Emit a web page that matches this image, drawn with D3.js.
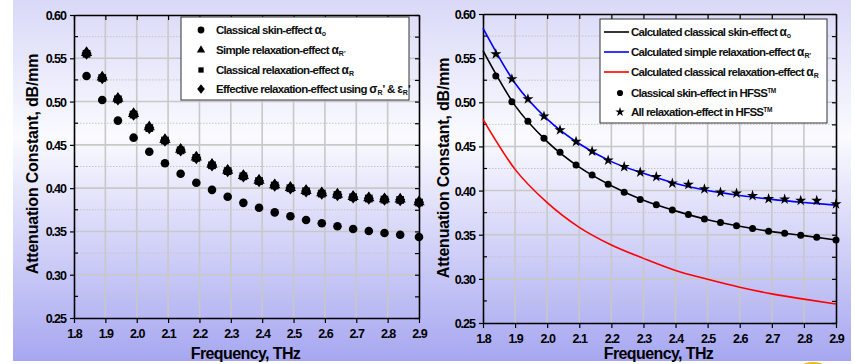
<!DOCTYPE html>
<html>
<head>
<meta charset="utf-8">
<script src="https://cdn.jsdelivr.net/npm/d3@7"></script>
<style>
  html, body { margin: 0; padding: 0; background: #fff; }
  svg { display: block; font-family: "Liberation Sans", Arial, sans-serif; }
</style>
</head>
<body>
<svg id="chart" width="855" height="364"></svg>
<script>
// measured frequencies (THz)
const freq = [1.84, 1.89, 1.94, 1.99, 2.04, 2.09, 2.14, 2.19, 2.24, 2.29, 2.34,
              2.39, 2.44, 2.49, 2.54, 2.59, 2.64, 2.69, 2.74, 2.79, 2.84, 2.9];

// left panel - point sets
const skinEffect = [0.5295, 0.5018, 0.478, 0.4583, 0.442, 0.4287, 0.4167, 0.4063, 0.398, 0.390, 0.383,
                    0.3774, 0.372, 0.3675, 0.3632, 0.3594, 0.356, 0.3528, 0.3505, 0.3482, 0.3462, 0.3436];
const simpleRelax = [0.5565, 0.5282, 0.5036, 0.4858, 0.4705, 0.4558, 0.4446, 0.4357, 0.4272, 0.4205, 0.4144,
                     0.4089, 0.4037, 0.4006, 0.3971, 0.3944, 0.3928, 0.3902, 0.3887, 0.3875, 0.3871, 0.3841];
const classicalRelax = [0.5552, 0.5272, 0.5026, 0.4850, 0.4694, 0.4550, 0.4437, 0.4349, 0.4264, 0.4197, 0.4137,
                        0.4082, 0.4030, 0.3999, 0.3964, 0.3937, 0.3921, 0.3895, 0.3880, 0.3868, 0.3864, 0.3834];
const effectiveRelax = [0.5557, 0.5276, 0.503, 0.4853, 0.4698, 0.4553, 0.444, 0.4352, 0.4267, 0.420, 0.414,
                        0.4085, 0.4033, 0.4002, 0.3967, 0.394, 0.3924, 0.3898, 0.3883, 0.3871, 0.3867, 0.3837];

// right panel - calculated curves
const curveFreq = [1.8, 1.9, 2.0, 2.1, 2.2, 2.3, 2.4, 2.5, 2.6, 2.7, 2.8, 2.9];
const calcSkin = [0.5584, 0.4962, 0.4555, 0.4265, 0.4055, 0.389, 0.377, 0.367, 0.3595, 0.3535, 0.349, 0.344];
const calcSimple = [0.5840, 0.5216, 0.481, 0.453, 0.4328, 0.4195, 0.408, 0.400, 0.3945, 0.390, 0.3865, 0.3835];
const calcClassical = [0.4806, 0.424, 0.3863, 0.3583, 0.3383, 0.3232, 0.3095, 0.2995, 0.2905, 0.283, 0.277, 0.2716];

// right panel - HFSS points
const hfssSkin = [0.5298, 0.5007, 0.4785, 0.4592, 0.4434, 0.429, 0.4177, 0.4071, 0.398, 0.390, 0.384,
                  0.3779, 0.373, 0.3678, 0.3637, 0.3602, 0.3569, 0.3539, 0.3516, 0.3494, 0.3471, 0.344];
const hfssRelax = [0.5547, 0.5264, 0.5037, 0.4841, 0.4686, 0.4554, 0.4445, 0.4343, 0.4268, 0.4207, 0.4157,
                   0.4082, 0.4067, 0.4018, 0.398, 0.397, 0.3942, 0.3908, 0.3901, 0.3886, 0.3886, 0.3848];

const xTicks = [1.8, 1.9, 2.0, 2.1, 2.2, 2.3, 2.4, 2.5, 2.6, 2.7, 2.8, 2.9];
const yTicks = [0.25, 0.30, 0.35, 0.40, 0.45, 0.50, 0.55, 0.60];
const yMinor = [0.275, 0.325, 0.375, 0.425, 0.475, 0.525, 0.575];

const svg = d3.select("#chart");

// slide background
const defs = svg.append("defs");
const grad = defs.append("linearGradient").attr("id", "bg").attr("x1", 0).attr("y1", 0).attr("x2", 0).attr("y2", 1);
grad.append("stop").attr("offset", "0%").attr("stop-color", "#d9d9f8");
grad.append("stop").attr("offset", "38%").attr("stop-color", "#fafaff");
grad.append("stop").attr("offset", "100%").attr("stop-color", "#a7a7f1");
svg.append("rect").attr("x", 13).attr("y", 0).attr("width", 838).attr("height", 361).attr("fill", "url(#bg)");
// bit of the logo peeking in bottom right
svg.append("ellipse").attr("cx", 813).attr("cy", 376).attr("rx", 19).attr("ry", 14).attr("fill", "#f2b51e");

// diamond marker
const diamond = (w, h) => `M0,${-h}L${w},0L0,${h}L${-w},0Z`;

function panel(o) {
  const x = d3.scaleLinear().domain([1.8, 2.9]).range([o.x0, o.x1]);
  const y = d3.scaleLinear().domain([0.25, 0.60]).range([o.y1, o.y0]);
  const g = svg.append("g");

  // grid
  g.append("g").selectAll("line").data(yMinor).join("line")
    .attr("x1", o.x0).attr("x2", o.x1).attr("y1", d => y(d)).attr("y2", d => y(d))
    .attr("stroke", "#c4c4c4").attr("stroke-width", 1).attr("stroke-dasharray", "1.5,1.5");
  g.append("g").selectAll("line").data(yTicks.slice(1, -1)).join("line")
    .attr("x1", o.x0).attr("x2", o.x1).attr("y1", d => y(d)).attr("y2", d => y(d))
    .attr("stroke", "#c8c8c8").attr("stroke-width", 1.6);
  g.append("g").selectAll("line").data(xTicks.slice(1, -1)).join("line")
    .attr("y1", o.y0).attr("y2", o.y1).attr("x1", d => x(d)).attr("x2", d => x(d))
    .attr("stroke", "#c8c8c8").attr("stroke-width", 1.6);

  // axes
  const fmt1 = d3.format(".1f"), fmt2 = d3.format(".2f");
  const bottom = g.append("g").attr("transform", `translate(0,${o.y1})`)
    .call(d3.axisBottom(x).tickValues(xTicks).tickFormat(fmt1).tickSize(5).tickSizeOuter(0));
  const left = g.append("g").attr("transform", `translate(${o.x0},0)`)
    .call(d3.axisLeft(y).tickValues(yTicks).tickFormat(fmt2).tickSize(4).tickSizeOuter(0));
  const top = g.append("g").attr("transform", `translate(0,${o.y0})`)
    .call(d3.axisTop(x).tickValues(xTicks).tickFormat("").tickSize(-5).tickSizeOuter(0));
  const right = g.append("g").attr("transform", `translate(${o.x1},0)`)
    .call(d3.axisRight(y).tickValues(yTicks.concat(yMinor)).tickFormat("").tickSize(-4).tickSizeOuter(0));
  // minor inward ticks on the left
  g.append("g").selectAll("line").data(yMinor).join("line")
    .attr("x1", o.x0).attr("x2", o.x0 + 4).attr("y1", d => y(d)).attr("y2", d => y(d))
    .attr("stroke", "#000").attr("stroke-width", 1.2);

  [bottom, left, top, right].forEach(a => {
    a.select(".domain").attr("stroke", "#000").attr("stroke-width", 1.6);
    a.selectAll(".tick line").attr("stroke", "#000").attr("stroke-width", 1.2);
    a.selectAll("text").attr("font-family", "Liberation Sans, Arial, sans-serif")
      .attr("font-size", 12.5).attr("font-weight", "bold").attr("fill", "#000")
      .attr("letter-spacing", -1);
  });
  bottom.selectAll("text").attr("dy", "0.95em");
  left.selectAll("text").attr("dx", "-1px").attr("dy", "0.36em");

  // titles
  g.append("text").attr("x", (o.x0 + o.x1) / 2 - 1).attr("y", 359)
    .attr("text-anchor", "middle").attr("font-size", 16).attr("font-weight", "bold")
    .attr("letter-spacing", -0.6).text("Frequency, THz");
  g.append("text").attr("transform", `translate(${o.titleX},${o.titleY}) rotate(-90)`)
    .attr("text-anchor", "middle").attr("font-size", 16).attr("font-weight", "bold")
    .attr("letter-spacing", -0.2).text("Attenuation Constant, dB/mm");

  return { g, x, y };
}

// legend text with greek + subscript pieces
function legendText(sel, parts, ls) {
  const t = sel.append("text").attr("font-size", 11.5).attr("letter-spacing", ls)
    .attr("font-weight", "bold").attr("fill", "#111");
  parts.forEach(p => {
    const s = t.append("tspan").text(p.t);
    if (p.sub) s.attr("font-size", 7).attr("baseline-shift", "-35%").attr("letter-spacing", 0);
    if (p.greek) s.attr("font-size", 12).attr("letter-spacing", 0).attr("font-weight", "bold");
  });
  return t;
}

// ---------- left panel ----------
const L = panel({ x0: 74, x1: 419, y0: 15, y1: 318, titleX: 38, titleY: 164 });
const pts = (arr) => arr.map((v, i) => [freq[i], v]);

L.g.append("g").selectAll("path").data(pts(classicalRelax)).join("path")
  .attr("transform", d => `translate(${L.x(d[0])},${L.y(d[1])})`)
  .attr("d", d3.symbol(d3.symbolSquare, 60)).attr("fill", "#000");
L.g.append("g").selectAll("path").data(pts(simpleRelax)).join("path")
  .attr("transform", d => `translate(${L.x(d[0])},${L.y(d[1])})`)
  .attr("d", d3.symbol(d3.symbolTriangle, 55)).attr("fill", "#000");
L.g.append("g").selectAll("path").data(pts(effectiveRelax)).join("path")
  .attr("transform", d => `translate(${L.x(d[0])},${L.y(d[1])})`)
  .attr("d", diamond(5, 6.5)).attr("fill", "#000");
L.g.append("g").selectAll("circle").data(pts(skinEffect)).join("circle")
  .attr("cx", d => L.x(d[0])).attr("cy", d => L.y(d[1])).attr("r", 4.3).attr("fill", "#000");

const lg = svg.append("g");
lg.append("rect").attr("x", 181).attr("y", 17).attr("width", 228).attr("height", 83)
  .attr("fill", "#fff").attr("stroke", "#333").attr("stroke-width", 1);
const leftItems = [
  { y: 30, sym: "circle", parts: [{ t: "Classical skin-effect " }, { t: "α", greek: 1 }, { t: "o", sub: 1 }] },
  { y: 50, sym: "triangle", parts: [{ t: "Simple relaxation-effect " }, { t: "α", greek: 1 }, { t: "R'", sub: 1 }] },
  { y: 70, sym: "square", parts: [{ t: "Classical relaxation-effect " }, { t: "α", greek: 1 }, { t: "R", sub: 1 }] },
  { y: 89, sym: "diamond", parts: [{ t: "Effective relaxation-effect using " }, { t: "σ", greek: 1 }, { t: "R", sub: 1 },
      { t: "' & " }, { t: "ε", greek: 1 }, { t: "R", sub: 1 }, { t: "'" }] }
];
leftItems.forEach(it => {
  const m = lg.append("path").attr("transform", `translate(201,${it.y})`).attr("fill", "#000");
  if (it.sym === "circle") m.attr("d", d3.symbol(d3.symbolCircle, 36));
  if (it.sym === "triangle") m.attr("d", d3.symbol(d3.symbolTriangle, 30));
  if (it.sym === "square") m.attr("d", d3.symbol(d3.symbolSquare, 28));
  if (it.sym === "diamond") m.attr("d", diamond(3.8, 4.8));
  legendText(lg, it.parts, -0.7).attr("x", 216).attr("y", it.y + 4);
});

// ---------- right panel ----------
const R = panel({ x0: 483, x1: 836, y0: 14, y1: 323, titleX: 449, titleY: 168 });
const line = d3.line().x(d => R.x(d[0])).y(d => R.y(d[1])).curve(d3.curveMonotoneX);
const cpts = (arr) => arr.map((v, i) => [curveFreq[i], v]);
[[calcClassical, "#ff0000"], [calcSkin, "#000000"], [calcSimple, "#0000ff"]].forEach(([arr, c]) => {
  R.g.append("path").attr("d", line(cpts(arr))).attr("fill", "none").attr("stroke", c).attr("stroke-width", 1.6);
});
R.g.append("g").selectAll("circle").data(pts(hfssSkin)).join("circle")
  .attr("cx", d => R.x(d[0])).attr("cy", d => R.y(d[1])).attr("r", 3.5).attr("fill", "#000");
R.g.append("g").selectAll("path").data(pts(hfssRelax)).join("path")
  .attr("transform", d => `translate(${R.x(d[0])},${R.y(d[1])})`)
  .attr("d", d3.symbol(d3.symbolStar, 38)).attr("fill", "#000");

const rg = svg.append("g");
rg.append("rect").attr("x", 600).attr("y", 19).attr("width", 227).attr("height", 104)
  .attr("fill", "#fff").attr("stroke", "#333").attr("stroke-width", 1);
const rightItems = [
  { y: 32, line: "#000", parts: [{ t: "Calculated classical skin-effect " }, { t: "α", greek: 1 }, { t: "o", sub: 1 }] },
  { y: 52, line: "#0000ff", parts: [{ t: "Calculated simple relaxation-effect " }, { t: "α", greek: 1 }, { t: "R'", sub: 1 }] },
  { y: 72, line: "#ff0000", parts: [{ t: "Calculated classical relaxation-effect " }, { t: "α", greek: 1 }, { t: "R", sub: 1 }] },
  { y: 93, sym: "circle", parts: [{ t: "Classical skin-effect in HFSS" }, { t: "TM", tm: 1 }] },
  { y: 112, sym: "star", parts: [{ t: "All relaxation-effect in HFSS" }, { t: "TM", tm: 1 }] }
];
rightItems.forEach(it => {
  if (it.line) {
    rg.append("line").attr("x1", 604).attr("x2", 629).attr("y1", it.y).attr("y2", it.y)
      .attr("stroke", it.line).attr("stroke-width", 1.6);
  } else {
    rg.append("path").attr("transform", `translate(620,${it.y})`).attr("fill", "#000")
      .attr("d", it.sym === "circle" ? d3.symbol(d3.symbolCircle, 30) : d3.symbol(d3.symbolStar, 28));
  }
  const t = legendText(rg, it.parts.filter(p => !p.tm), -0.75).attr("x", 631).attr("y", it.y + 4);
  const tm = it.parts.find(p => p.tm);
  if (tm) t.append("tspan").text(tm.t).attr("font-size", 6.5).attr("baseline-shift", "60%").attr("letter-spacing", -0.3);
});
</script>
</body>
</html>
